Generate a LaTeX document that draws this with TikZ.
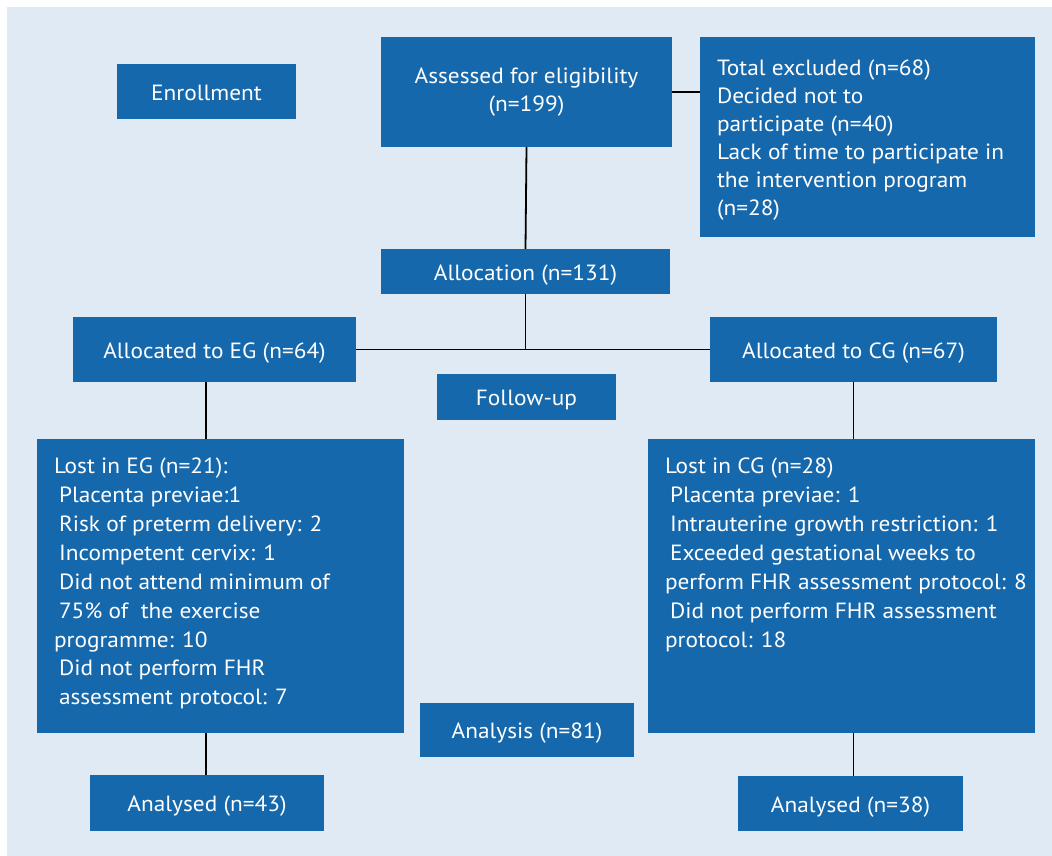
\documentclass[tikz,border=0pt]{standalone}
\usepackage{fontspec}
\setmainfont[FakeStretch=1.06]{PT Sans}
\definecolor{boxblue}{HTML}{1668AC}
\definecolor{bgblue}{HTML}{E0EAF4}
\begin{document}
\begin{tikzpicture}[x=1pt,y=-1pt,
  box/.style={fill=boxblue, draw=none, text=white, inner sep=0pt, font=\fontsize{22}{28.5}\selectfont, align=center},
  onel/.style={box, text height=20.5pt, text depth=3pt},
  txt/.style={text=white, inner sep=0pt, font=\fontsize{22}{28.9}\selectfont, align=left, anchor=north west},
  conn/.style={draw=black, line width=1.8pt}]
\useasboundingbox (0,0) rectangle (1052,856);
\fill[bgblue] (7,7) rectangle (1052,856);
\node[onel, minimum width=179, minimum height=55] (enroll) at (206.5,91.5) {Enrollment};
\node[box, minimum width=291, minimum height=110] (assess) at (526.5,92) {Assessed for eligibility\\(n=199)};
\node[box, minimum width=335, minimum height=200] (excl) at (867.5,137) {};
\node[onel, minimum width=289, minimum height=45] (alloc) at (525.5,271.5) {Allocation (n=131)};
\node[onel, minimum width=283, minimum height=65] (eg) at (214.5,349.5) {Allocated to EG (n=64)};
\node[onel, minimum width=287, minimum height=65] (cg) at (853.5,349.5) {Allocated to CG (n=67)};
\node[onel, minimum width=179, minimum height=46] (follow) at (526.5,397) {Follow-up};
\node[box, minimum width=367, minimum height=294] (losteg) at (220.5,586) {};
\node[box, minimum width=387, minimum height=294] (lostcg) at (841.5,586) {};
\node[onel, minimum width=214, minimum height=54] (analysis) at (527,730) {Analysis (n=81)};
\node[onel, minimum width=234, minimum height=56] (an43) at (207,803) {Analysed (n=43)};
\node[onel, minimum width=225, minimum height=55] (an38) at (850.5,803.5) {Analysed (n=38)};
% texts
\node[txt, font=\fontsize{22}{28}\selectfont] (excltxt) at ([xshift=17pt,yshift=-23pt]excl.north west) {Total excluded (n=68)\\Decided not to\\participate (n=40)\\Lack of time to participate in\\the intervention program\\(n=28)};
\node[txt] (losttxt) at ([xshift=17pt,yshift=-19pt]losteg.north west) {Lost in EG (n=21):\\\hspace*{5pt}Placenta previae:1\\\hspace*{5pt}Risk of preterm delivery: 2\\\hspace*{5pt}Incompetent cervix: 1\\\hspace*{5pt}Did not attend minimum of\\\hspace*{5pt}75\% of\ \ the exercise\\programme: 10\\\hspace*{5pt}Did not perform FHR\\\hspace*{5pt}assessment protocol: 7};
\node[txt] (lostcgtxt) at ([xshift=17pt,yshift=-19pt]lostcg.north west) {Lost in CG (n=28)\\\hspace*{5pt}Placenta previae: 1\\\hspace*{5pt}Intrauterine growth restriction: 1\\\hspace*{5pt}Exceeded gestational weeks to\\perform FHR assessment protocol: 8\\\hspace*{5pt}Did not perform FHR assessment\\protocol: 18};
% connectors
\coordinate (junc) at (alloc.south |- eg.east);
\draw[conn] (assess.south) -- (alloc.north);
\draw[conn] (assess.east) -- (assess.east -| excl.west);
\draw[conn] (alloc.south) -- (junc);
\draw[conn] (eg.east) -- (cg.west);
\draw[conn] ([xshift=-8.5pt]eg.south) -- ([xshift=-8.5pt]eg.south |- losteg.north);
\draw[conn] ([xshift=-8.5pt]eg.south |- losteg.south) -- ([xshift=-8.5pt]eg.south |- an43.north);
\draw[conn] (cg.south) -- (cg.south |- lostcg.north);
\draw[conn] (cg.south |- lostcg.south) -- (cg.south |- an38.north);
\end{tikzpicture}
\end{document}
